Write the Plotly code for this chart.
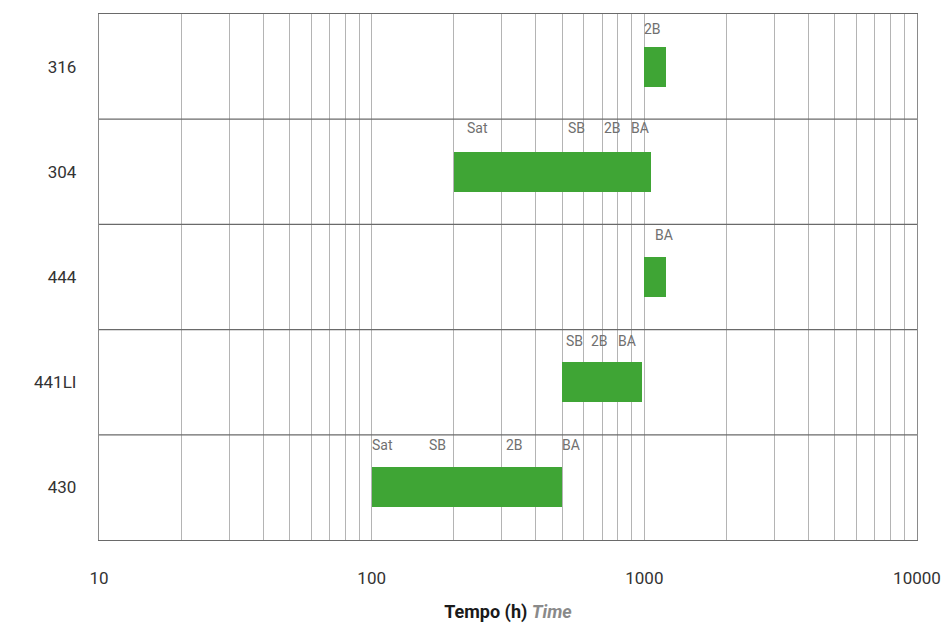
import math
import plotly.graph_objects as go

# Steel grades (bottom to top) and the time window of each bar, in hours
grades = ["430", "441LI", "444", "304", "316"]
start_h = [100, 500, 1000, 200, 1000]
end_h = [500, 980, 1200, 1055, 1200]

# Medium markers written above each bar
marker_grade = ["430", "430", "430", "430",
                "441LI", "441LI", "441LI",
                "444",
                "304", "304", "304", "304",
                "316"]
marker_text = ["Sat", "SB", "2B", "BA",
               "SB", "2B", "BA",
               "BA",
               "Sat", "SB", "2B", "BA",
               "2B"]
marker_h = [100, 162, 312, 500,
            514, 635, 798,
            1090,
            223, 527, 709, 891,
            1000]

x_ticks = [10, 100, 1000, 10000]

GREEN = "#3fa535"
GRID = "#b4b4b4"
DIV = "#6a6a6a"
FONT = "Roboto, 'Noto Sans', sans-serif"

fig = go.Figure()
fig.add_trace(go.Bar(
    y=grades,
    x=[e - s for s, e in zip(start_h, end_h)],
    base=start_h,
    orientation="h",
    width=0.38,
    marker=dict(color=GREEN, line=dict(width=0)),
    hoverinfo="skip",
))

row_shift = {"430": -10, "441LI": -11, "444": -11, "304": -9, "316": -15}
for g, t, xv in zip(marker_grade, marker_text, marker_h):
    fig.add_annotation(
        x=math.log10(xv), y=grades.index(g) + 0.5,
        xref="x", yref="y", text=t, showarrow=False,
        xanchor="left", yanchor="middle", xshift=-2, yshift=row_shift[g],
        font=dict(family=FONT, size=14, color="#707070"),
    )

# horizontal row dividers
for i in range(len(grades) - 1):
    fig.add_shape(type="line", xref="paper", yref="y", x0=0, x1=1,
                  y0=i + 0.5, y1=i + 0.5, line=dict(color=DIV, width=1.3))

fig.update_layout(
    width=944, height=624,
    margin=dict(l=99, r=27, t=14, b=84),
    plot_bgcolor="white", paper_bgcolor="white",
    showlegend=False,
    bargap=0,
    font=dict(family=FONT, color="#333333"),
    xaxis=dict(
        type="log", range=[1, 4], automargin=False,
        tickvals=x_ticks, ticktext=[str(v) for v in x_ticks],
        tickfont=dict(size=17, color="#333333"),
        showgrid=True, gridcolor=GRID, gridwidth=1.2,
        minor=dict(dtick="D1", showgrid=True, gridcolor=GRID, gridwidth=1.2, ticks=""),
        showline=True, linecolor=DIV, linewidth=1.3, mirror=True,
        ticks="", ticklabelstandoff=22,
        zeroline=False,
        title=dict(text="<b>Tempo (h) </b><b><i><span style='color:#8a8a8a'>Time</span></i></b>",
                   font=dict(size=18, color="#1a1a1a"), standoff=18),
    ),
    yaxis=dict(
        type="category", categoryorder="array", categoryarray=grades,
        range=[-0.5, len(grades) - 0.5], automargin=False,
        tickfont=dict(size=17, color="#333333"),
        showgrid=False, showline=True, linecolor="#8a8a8a", linewidth=1.3, mirror=True,
        ticks="", ticklabelstandoff=18, zeroline=False,
    ),
)

fig.write_html("out.html")
